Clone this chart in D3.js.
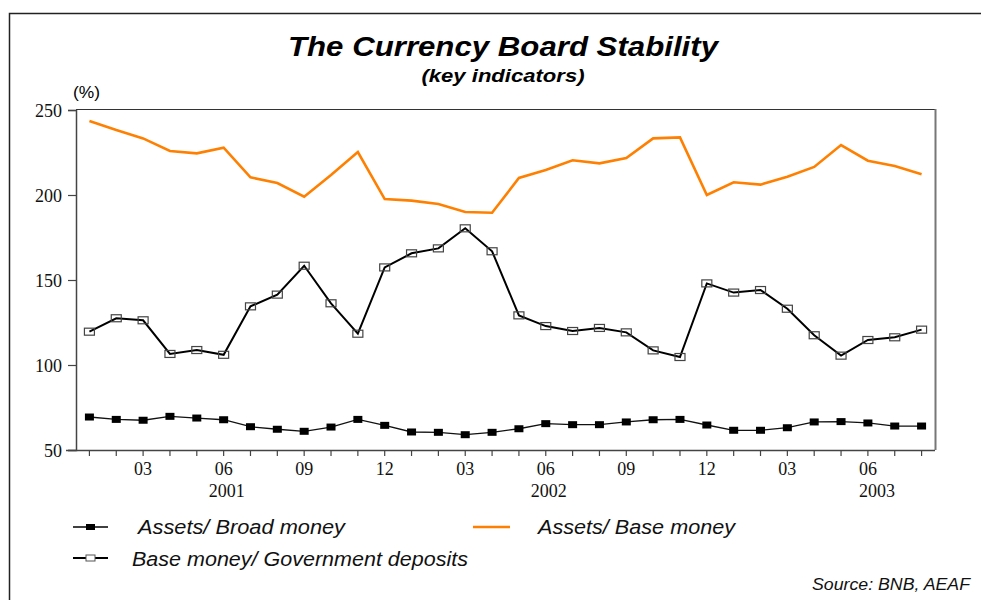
<!DOCTYPE html>
<html><head><meta charset="utf-8">
<script src="https://cdn.jsdelivr.net/npm/d3@7"></script>
<style>body{margin:0;background:#fff}svg{display:block}</style>
</head><body>
<svg id="c" width="981" height="600"></svg>
<script>
const months = ["2001-01","2001-02","2001-03","2001-04","2001-05","2001-06","2001-07","2001-08","2001-09","2001-10","2001-11","2001-12",
"2002-01","2002-02","2002-03","2002-04","2002-05","2002-06","2002-07","2002-08","2002-09","2002-10","2002-11","2002-12",
"2003-01","2003-02","2003-03","2003-04","2003-05","2003-06","2003-07","2003-08"];
const assetsBroadMoney = [69.4,68.0,67.5,69.8,68.8,67.8,63.7,62.2,61.0,63.5,68.0,64.5,60.6,60.4,59.0,60.4,62.5,65.5,64.9,64.9,66.5,67.8,68.0,64.7,61.6,61.6,63.1,66.5,66.7,65.9,64.1,64.1];
const assetsBaseMoney = [243.5,238.2,233.3,225.9,224.5,227.8,210.4,207.0,199.0,211.8,225.3,197.6,196.7,194.7,190.0,189.6,210.0,214.7,220.4,218.6,221.8,233.3,233.9,200.0,207.5,206.1,210.8,216.5,229.4,220.2,217.1,212.2];
const baseMoneyGovDeposits = [119.6,127.5,126.3,106.5,108.8,106.0,134.5,141.4,158.4,136.3,118.4,157.4,165.7,168.6,180.4,166.9,129.2,122.9,120.0,121.8,119.2,108.6,104.7,148.0,142.6,144.1,133.1,117.5,105.5,114.7,116.3,120.8];
const yTicks = [50,100,150,200,250];
const monthLabelMonths = ["03","06","09","12"];
const yearLabels = [{year:"2001", at:"2001-06"},{year:"2002", at:"2002-06"},{year:"2003", at:"2003-06"}];
const legendLabels = ["Assets/ Broad money","Assets/ Base money","Base money/ Government deposits"];
const titleText = "The Currency Board Stability";
const subtitleText = "(key indicators)";
const unitText = "(%)";
const sourceText = "Source: BNB, AEAF";

const svg = d3.select("#c");
const L = 76, R = 935, T = 110, B = 450;
const x = d3.scaleBand().domain(months).range([L, R]);
const cx = m => x(m) + x.bandwidth()/2;
const y = d3.scaleLinear().domain([50,250]).range([B, T]);
const ORANGE = "#ff8000";

// outer frame
svg.append("path").attr("d", d3.line()([[9.5,600],[9.5,13.5],[981,13.5]]))
  .attr("fill","none").attr("stroke","#222").attr("stroke-width",1.5);

// title
const sans = "'Liberation Sans', Arial, Helvetica, sans-serif";
const serif = "'Liberation Serif', 'Times New Roman', serif";
svg.append("text").attr("x",503).attr("y",56).attr("text-anchor","middle")
  .attr("font-family",sans).attr("font-weight","bold").attr("font-style","italic")
  .attr("font-size",28).attr("textLength",430).attr("lengthAdjust","spacingAndGlyphs").text(titleText);
svg.append("text").attr("x",503).attr("y",82).attr("text-anchor","middle")
  .attr("font-family",sans).attr("font-weight","bold").attr("font-style","italic")
  .attr("font-size",19).attr("textLength",163).attr("lengthAdjust","spacingAndGlyphs").text(subtitleText);
svg.append("text").attr("x",73).attr("y",98)
  .attr("font-family",sans).attr("font-size",16).attr("textLength",27).attr("lengthAdjust","spacingAndGlyphs").text(unitText);

// plot frame top/right
svg.append("line").attr("x1",L).attr("x2",R+1).attr("y1",T-0.5).attr("y2",T-0.5).attr("stroke","#333").attr("stroke-width",1.2);
svg.append("line").attr("x1",R+0.5).attr("x2",R+0.5).attr("y1",T-1).attr("y2",B).attr("stroke","#777").attr("stroke-width",2);

// y axis
const yAxis = d3.axisLeft(y).tickValues(yTicks).tickSize(8).tickPadding(6).tickFormat(d3.format("d"));
const gy = svg.append("g").attr("transform",`translate(${L},0)`).call(yAxis);
gy.select(".domain").attr("stroke","#444").attr("stroke-width",1.5);
gy.selectAll(".tick line").attr("stroke","#444").attr("stroke-width",1.2);
gy.selectAll("text").attr("font-family",serif).attr("font-size",18).attr("fill","#111").attr("dy","0.35em");

// x axis
const xAxis = d3.axisBottom(x).tickSize(6).tickPadding(6)
  .tickFormat(m => monthLabelMonths.includes(m.slice(5)) ? m.slice(5) : "");
const gx = svg.append("g").attr("transform",`translate(0,${B})`).call(xAxis);
gx.select(".domain").attr("stroke","#444").attr("stroke-width",1.5).attr("d",`M${L-10},0.5H${R}`);
gx.selectAll(".tick line").attr("stroke","#444").attr("stroke-width",1.2);
gx.selectAll("text").attr("font-family",serif).attr("font-size",18).attr("fill","#111");
svg.append("g").selectAll("text").data(yearLabels).join("text")
  .attr("x",d => cx(d.at) + (d.year==="2003" ? 9 : 3)).attr("y",497).attr("text-anchor","middle")
  .attr("font-family",serif).attr("font-size",18).attr("fill","#111").text(d => d.year);

// series
const line = d3.line().x((d,i) => cx(months[i])).y(d => y(d));
svg.append("path").datum(assetsBaseMoney).attr("d",line).attr("fill","none")
  .attr("stroke",ORANGE).attr("stroke-width",2.6).attr("stroke-linejoin","miter");
svg.append("path").datum(baseMoneyGovDeposits).attr("d",line).attr("fill","none")
  .attr("stroke","#000").attr("stroke-width",2);
svg.append("g").selectAll("rect").data(baseMoneyGovDeposits).join("rect")
  .attr("x",(d,i) => cx(months[i]) - 5).attr("y",d => y(d) - 3.5).attr("width",10).attr("height",7)
  .attr("fill","none").attr("stroke","#444").attr("stroke-width",1.2);
svg.append("path").datum(assetsBroadMoney).attr("d",line).attr("fill","none")
  .attr("stroke","#111").attr("stroke-width",1.3);
svg.append("g").selectAll("rect").data(assetsBroadMoney).join("rect")
  .attr("x",(d,i) => cx(months[i]) - 4.5).attr("y",d => y(d) - 3.5).attr("width",9).attr("height",7)
  .attr("fill","#000");

// legend
const lg = svg.append("g");
lg.append("line").attr("x1",73).attr("x2",108).attr("y1",527).attr("y2",527).attr("stroke","#000").attr("stroke-width",1.3);
lg.append("rect").attr("x",86).attr("y",524).attr("width",9).attr("height",6).attr("fill","#000");
lg.append("line").attr("x1",73).attr("x2",108).attr("y1",558).attr("y2",558).attr("stroke","#000").attr("stroke-width",1.8);
lg.append("rect").attr("x",86).attr("y",555).attr("width",9).attr("height",6).attr("fill","#fff").attr("stroke","#555").attr("stroke-width",1);
lg.append("line").attr("x1",473).attr("x2",510).attr("y1",527).attr("y2",527).attr("stroke",ORANGE).attr("stroke-width",2.6);
const legText = [
  {t:legendLabels[0], x:138, y:534, w:207},
  {t:legendLabels[1], x:538, y:534, w:197},
  {t:legendLabels[2], x:132, y:566, w:336}
];
lg.selectAll("text.l").data(legText).join("text").attr("class","l")
  .attr("x",d=>d.x).attr("y",d=>d.y).attr("font-family",sans).attr("font-style","italic")
  .attr("font-size",20).attr("textLength",d=>d.w).attr("lengthAdjust","spacingAndGlyphs").attr("fill","#111").text(d=>d.t);

svg.append("text").attr("x",970).attr("y",590).attr("text-anchor","end")
  .attr("font-family",sans).attr("font-style","italic").attr("font-size",16)
  .attr("textLength",158).attr("lengthAdjust","spacingAndGlyphs").attr("fill","#111").text(sourceText);
</script>
</body></html>
